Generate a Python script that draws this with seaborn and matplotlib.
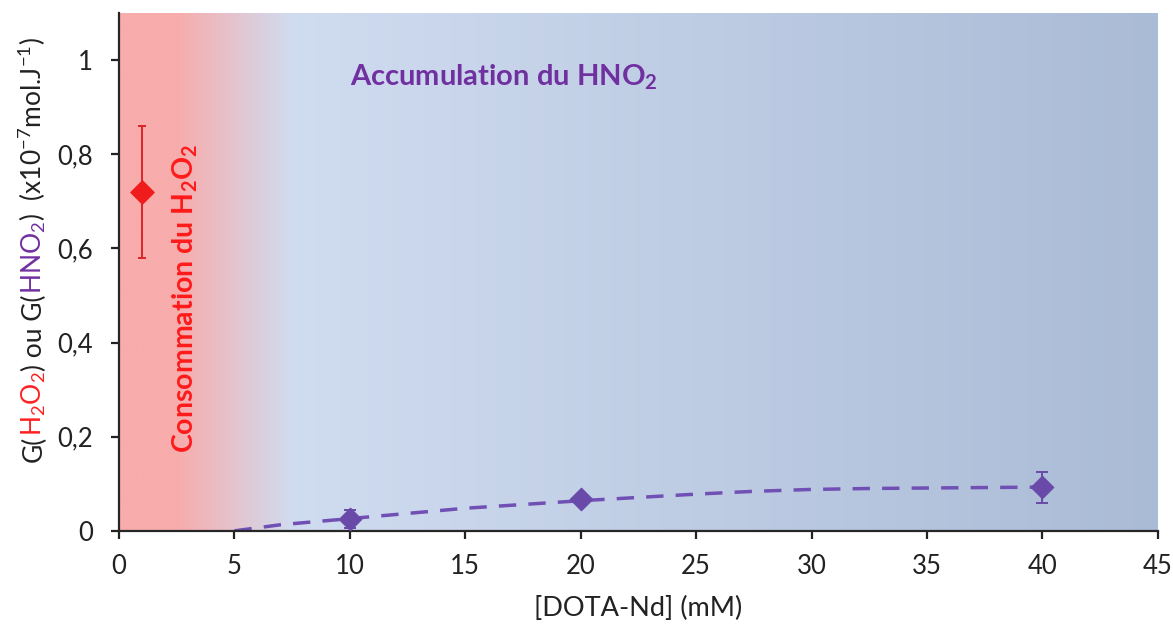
import matplotlib.pyplot as plt
import matplotlib as mpl
import seaborn as sns
import numpy as np
import pandas as pd

sns.set_style('ticks')
mpl.rcParams.update({
    'font.family': ['Lato', 'DejaVu Sans'],
    'mathtext.default': 'regular',
    'axes.linewidth': 1.6,
    'xtick.major.width': 1.6,
    'ytick.major.width': 1.6,
    'xtick.major.size': 6,
    'ytick.major.size': 6,
    'xtick.labelsize': 18.5,
    'ytick.labelsize': 18.5,
})

# data
h2o2_x = [1]
h2o2_y = [0.72]
h2o2_err = [0.14]

hno2_x = [10, 20, 40]
hno2_y = [0.025, 0.067, 0.093]
hno2_err = [0.019, 0.004, 0.033]

# dashed trend curve
fit_x = [5, 7, 10, 12.5, 15, 17.5, 20, 22.5, 25, 27.5, 30, 32.5, 35, 37.5, 40]
fit_y = [0, 0.013, 0.026, 0.037, 0.048, 0.056, 0.064, 0.071, 0.078, 0.084,
         0.088, 0.090, 0.091, 0.092, 0.093]

x_ticks = [0, 5, 10, 15, 20, 25, 30, 35, 40, 45]
y_ticks = [0, 0.2, 0.4, 0.6, 0.8, 1]
y_ticklabels = ['0', '0,2', '0,4', '0,6', '0,8', '1']

RED = '#dc2428'
PURPLE = '#6a4aa8'
TXT_PURPLE = '#7030a0'

# background gradient stops (x position, colour)
bg_pos = [0, 2.5, 7.5, 45]
bg_col = [(248, 172, 172), (248, 172, 172), (208, 220, 240), (170, 187, 214)]

fig = plt.figure(figsize=(11.73, 6.26), dpi=100)
ax = fig.add_axes([0.1015, 0.152, 0.8855, 0.827])

xs = np.linspace(0, 45, 900)
grad = np.stack([np.interp(xs, bg_pos, [c[k] for c in bg_col]) for k in range(3)], axis=-1) / 255
ax.imshow(grad[np.newaxis, :, :], extent=[0, 45, 0, 1.1], aspect='auto', zorder=0, interpolation='bilinear')

fit = pd.DataFrame({'x': fit_x, 'y': fit_y})
sns.lineplot(data=fit, x='x', y='y', ax=ax, color='#7050b4', lw=2.5,
             linestyle=(0, (5, 3.5)), zorder=2)

ax.errorbar(h2o2_x, h2o2_y, yerr=h2o2_err, fmt='none', ecolor=RED, elinewidth=1.4,
            capsize=3, capthick=1.4, zorder=3)
ax.errorbar(hno2_x, hno2_y, yerr=hno2_err, fmt='none', ecolor=PURPLE, elinewidth=1.4,
            capsize=4, capthick=1.4, zorder=3)
sns.scatterplot(x=h2o2_x, y=h2o2_y, ax=ax, marker='D', s=140, color='#f01c1c', edgecolor='#f01c1c', zorder=4)
sns.scatterplot(x=hno2_x, y=hno2_y, ax=ax, marker='D', s=130, color=PURPLE, edgecolor=PURPLE, zorder=4)

ax.set_xlim(0, 45)
ax.set_ylim(0, 1.1)
ax.set_xticks(x_ticks)
ax.set_yticks(y_ticks)
ax.set_yticklabels(y_ticklabels)
ax.tick_params(colors='#222222', labelcolor='#222222')
ax.tick_params(axis='y', pad=13)
ax.tick_params(axis='x', pad=11)
sns.despine(ax=ax, top=True, right=True)
ax.set_xlabel('[DOTA-Nd] (mM)', fontsize=19.5, color='#222222', labelpad=12)
ax.set_ylabel('')

ax.text(10, 0.963, 'Accumulation du HNO$_2$', color=TXT_PURPLE, fontsize=21,
        fontweight='bold', ha='left', va='center')
ax.text(2.85, 0.495, 'Consommation du H$_2$O$_2$', color='#ff1a1a', fontsize=20.5,
        fontweight='bold', rotation=90, ha='center', va='center')

# multicolour y label, built piece by piece from the bottom up
parts = [('G(', '#222222'), ('H$_2$O$_2$', '#ff2020'), (') ou G(', '#222222'),
         ('HNO$_2$', TXT_PURPLE), (')  (x10$^{-7}$mol.J$^{-1}$)', '#222222')]
fig.canvas.draw()
rend = fig.canvas.get_renderer()
W, H = fig.bbox.width, fig.bbox.height
ypix = 626 - 462
for s, c in parts:
    t = fig.text(42 / W, ypix / H, s, rotation=90, rotation_mode='anchor',
                 ha='left', va='baseline', color=c, fontsize=19)
    ypix += t.get_window_extent(rend).height

fig.savefig('out.png', dpi=100)
